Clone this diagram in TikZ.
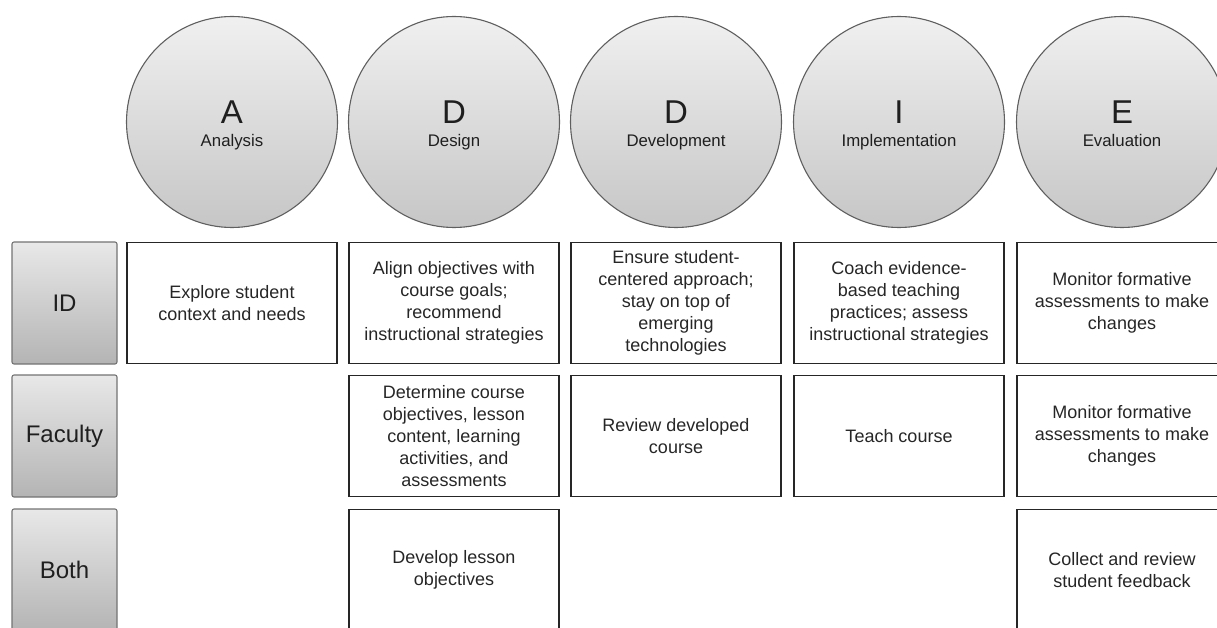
\documentclass[tikz,border=0pt]{standalone}
\usepackage{fontspec}
\setmainfont{Liberation Sans}
\definecolor{phaseEdge}{RGB}{95,95,95}
\definecolor{phaseTop}{RGB}{240,240,240}
\definecolor{phaseBot}{RGB}{198,198,198}
\definecolor{roleEdge}{RGB}{115,115,115}
\definecolor{roleTop}{RGB}{232,232,232}
\definecolor{roleBot}{RGB}{180,180,180}
\tikzset{
	phase/.style={
		circle,
		draw=phaseEdge,
		line width=1.1pt,
		top color=phaseTop,
		bottom color=phaseBot,
		minimum size=211pt,
		inner sep=0pt,
		align=center,
		text=black!88,
		font=\fontsize{16.8}{19}\selectfont
	},
	role/.style={
		draw=roleEdge,
		rounded corners=2pt,
		line width=1.1pt,
		top color=roleTop,
		bottom color=roleBot,
		minimum width=105pt,
		minimum height=122pt,
		text=black!88,
		font=\fontsize{24}{28}\selectfont
	},
	task/.style={
		draw=black!85,
		line width=1.5pt,
		minimum width=210pt,
		minimum height=121pt,
		align=center,
		inner sep=2pt,
		text=black!85,
		font=\fontsize{18}{22}\selectfont
	}
}
% big letter over the phase name, the struts push both a little below the centre
\newcommand{\phasename}[2]{\rule{0pt}{31pt}{\fontsize{33}{36}\selectfont #1}\\[4pt]#2\rule[-4pt]{0pt}{4pt}}

\begin{document}
\begin{tikzpicture}[x=1pt, y=-1pt]
		\clip (0,0) rectangle (1217,628);
		% the five phases
		\node[phase] (anaC) at (232,122) {\phasename{A}{Analysis}};
		\node[phase] (desC) at (454,122) {\phasename{D}{Design}};
		\node[phase] (devC) at (676,122) {\phasename{D}{Development}};
		\node[phase] (impC) at (899,122) {\phasename{I}{Implementation}};
		\node[phase] (evaC) at (1122,122) {\phasename{E}{Evaluation}};

		% who does it
		\node[role] (idR) at (64.5,303) {ID};
		\node[role] (facR) at (64.5,436) {Faculty};
		\node[role] (bothR) at (64.5,570) {Both};

		% ID row
		\node[task] (idAna) at (232,303) {Explore student\\context and needs};
		\node[task] (idDes) at (454,303)
			{Align objectives with\\course goals;\\recommend\\instructional strategies};
		\node[task] (idDev) at (676,303)
			{Ensure student-\\centered approach;\\stay on top of\\emerging\\technologies};
		\node[task] (idImp) at (899,303)
			{Coach evidence-\\based teaching\\practices; assess\\instructional strategies};
		\node[task] (idEva) at (1122,303)
			{Monitor formative\\assessments to make\\changes};

		% Faculty row
		\node[task] (facDes) at (454,436)
			{Determine course\\objectives, lesson\\content, learning\\activities, and\\assessments};
		\node[task] (facDev) at (676,436) {Review developed\\course};
		\node[task] (facImp) at (899,436) {Teach course};
		\node[task] (facEva) at (1122,436)
			{Monitor formative\\assessments to make\\changes};

		% shared row
		\node[task] (bothDes) at (454,570) {Develop lesson\\objectives};
		\node[task] (bothEva) at (1122,570) {Collect and review\\student feedback};
	\end{tikzpicture}
\end{document}
